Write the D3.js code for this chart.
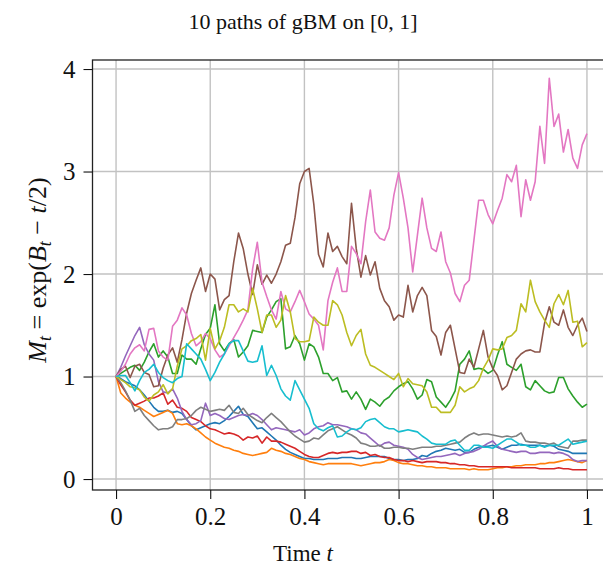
<!DOCTYPE html>
<html>
<head>
<meta charset="utf-8">
<script src="https://cdn.jsdelivr.net/npm/d3@7/dist/d3.min.js"></script>
<style>
  html, body { margin: 0; padding: 0; background: #fff; }
  svg text { font-family: "Liberation Serif", "DejaVu Serif", serif; fill: #111; }
</style>
</head>
<body>
<svg id="chart" width="603" height="568"></svg>
<script>
// Ten sampled paths of geometric Brownian motion M_t = exp(B_t - t/2), 100 steps on [0, 1]
const pathBlue = [
  1.00, 0.98, 0.95, 0.93, 0.91, 0.87, 0.82, 0.76, 0.70, 0.66,
  0.66, 0.67, 0.65, 0.66, 0.64, 0.58, 0.52, 0.48, 0.50, 0.52,
  0.54, 0.55, 0.54, 0.57, 0.61, 0.66, 0.71, 0.63, 0.61, 0.55,
  0.49, 0.50, 0.46, 0.42, 0.38, 0.33, 0.29, 0.26, 0.24, 0.22,
  0.20, 0.20, 0.19, 0.19, 0.19, 0.20, 0.20, 0.20, 0.21, 0.21,
  0.21, 0.20, 0.20, 0.21, 0.22, 0.22, 0.22, 0.22, 0.20, 0.19,
  0.19, 0.18, 0.19, 0.19, 0.20, 0.23, 0.22, 0.25, 0.27, 0.28,
  0.30, 0.29, 0.28, 0.29, 0.26, 0.26, 0.29, 0.31, 0.32, 0.32,
  0.33, 0.31, 0.29, 0.31, 0.33, 0.33, 0.34, 0.33, 0.33, 0.33,
  0.33, 0.32, 0.33, 0.32, 0.29, 0.28, 0.27, 0.25, 0.25, 0.25,
  0.25];
const pathOrange = [
  1.00, 0.84, 0.79, 0.75, 0.72, 0.70, 0.67, 0.64, 0.61, 0.63,
  0.65, 0.67, 0.64, 0.54, 0.53, 0.54, 0.52, 0.49, 0.45, 0.41,
  0.38, 0.35, 0.33, 0.31, 0.30, 0.28, 0.27, 0.25, 0.24, 0.23,
  0.24, 0.25, 0.26, 0.30, 0.28, 0.27, 0.25, 0.24, 0.22, 0.20,
  0.19, 0.17, 0.16, 0.15, 0.14, 0.15, 0.15, 0.15, 0.15, 0.15,
  0.15, 0.14, 0.13, 0.14, 0.15, 0.16, 0.16, 0.17, 0.19, 0.18,
  0.16, 0.15, 0.15, 0.14, 0.13, 0.13, 0.12, 0.12, 0.11, 0.11,
  0.11, 0.10, 0.10, 0.10, 0.10, 0.09, 0.10, 0.09, 0.09, 0.09,
  0.10, 0.11, 0.11, 0.12, 0.12, 0.13, 0.13, 0.14, 0.14, 0.14,
  0.15, 0.15, 0.16, 0.16, 0.17, 0.18, 0.19, 0.18, 0.17, 0.16,
  0.18];
const pathGreen = [
  1.00, 1.03, 1.06, 1.09, 1.11, 1.06, 1.14, 1.24, 1.32, 1.19,
  1.25, 1.19, 1.03, 1.03, 1.21, 1.17, 1.17, 1.12, 1.27, 1.41,
  1.47, 1.70, 1.32, 1.25, 1.32, 1.36, 1.19, 1.24, 1.30, 1.45,
  1.44, 1.43, 1.58, 1.65, 1.73, 1.76, 1.27, 1.29, 1.40, 1.32,
  1.16, 1.32, 1.29, 1.19, 1.03, 1.03, 0.96, 0.99, 0.85, 0.86,
  0.78, 0.85, 0.78, 0.68, 0.78, 0.75, 0.71, 0.77, 0.80, 0.86,
  0.90, 0.93, 0.95, 0.88, 0.78, 0.82, 0.97, 0.95, 0.80, 0.75,
  0.70, 0.77, 0.86, 1.12, 1.17, 1.25, 1.07, 1.08, 1.07, 1.03,
  1.06, 1.21, 1.34, 1.12, 1.09, 1.06, 1.12, 0.90, 0.87, 0.96,
  0.91, 0.86, 0.84, 0.85, 0.99, 0.99, 0.88, 0.81, 0.75, 0.70,
  0.73];
const pathRed = [
  1.00, 0.92, 0.85, 0.77, 0.72, 0.74, 0.76, 0.79, 0.79, 0.81,
  0.84, 0.73, 0.77, 0.70, 0.69, 0.66, 0.60, 0.58, 0.56, 0.52,
  0.49, 0.48, 0.46, 0.44, 0.45, 0.44, 0.42, 0.38, 0.41, 0.40,
  0.42, 0.35, 0.41, 0.37, 0.37, 0.36, 0.34, 0.32, 0.30, 0.27,
  0.24, 0.22, 0.21, 0.21, 0.23, 0.25, 0.26, 0.25, 0.26, 0.26,
  0.27, 0.27, 0.25, 0.26, 0.23, 0.24, 0.22, 0.21, 0.21, 0.19,
  0.18, 0.18, 0.17, 0.18, 0.17, 0.16, 0.17, 0.17, 0.17, 0.16,
  0.16, 0.15, 0.15, 0.14, 0.14, 0.13, 0.13, 0.12, 0.12, 0.12,
  0.12, 0.12, 0.12, 0.12, 0.11, 0.11, 0.11, 0.11, 0.11, 0.11,
  0.10, 0.10, 0.10, 0.10, 0.11, 0.10, 0.10, 0.09, 0.09, 0.09,
  0.09];
const pathPurple = [
  1.00, 1.09, 1.20, 1.30, 1.40, 1.48, 1.31, 1.22, 1.16, 0.95,
  0.85, 0.84, 0.88, 0.79, 0.66, 0.58, 0.53, 0.54, 0.57, 0.74,
  0.62, 0.64, 0.62, 0.59, 0.58, 0.60, 0.62, 0.63, 0.62, 0.64,
  0.62, 0.58, 0.53, 0.48, 0.50, 0.49, 0.48, 0.47, 0.46, 0.48,
  0.43, 0.45, 0.49, 0.51, 0.52, 0.55, 0.53, 0.53, 0.52, 0.51,
  0.49, 0.48, 0.45, 0.44, 0.40, 0.36, 0.32, 0.35, 0.36, 0.33,
  0.32, 0.31, 0.29, 0.24, 0.21, 0.19, 0.20, 0.21, 0.22, 0.22,
  0.23, 0.24, 0.25, 0.23, 0.25, 0.26, 0.27, 0.29, 0.32, 0.35,
  0.37, 0.32, 0.29, 0.28, 0.27, 0.26, 0.27, 0.27, 0.25, 0.25,
  0.26, 0.26, 0.26, 0.25, 0.26, 0.25, 0.23, 0.19, 0.17, 0.18,
  0.18];
const pathBrown = [
  1.00, 1.07, 1.10, 0.99, 1.10, 1.12, 1.04, 1.02, 0.90, 0.91,
  1.08, 1.21, 1.28, 1.14, 1.36, 1.62, 1.81, 1.94, 2.06, 1.83,
  2.00, 1.95, 1.65, 1.75, 1.79, 2.12, 2.40, 2.25, 2.00, 1.80,
  2.09, 1.90, 1.99, 1.91, 2.00, 2.12, 2.28, 2.30, 2.55, 2.88,
  3.00, 3.03, 2.68, 2.19, 2.07, 2.40, 2.22, 2.27, 2.17, 2.10,
  2.69, 2.25, 1.97, 2.18, 1.99, 2.12, 1.86, 1.74, 1.68, 1.55,
  1.60, 1.58, 1.89, 1.63, 1.79, 1.87, 1.79, 1.45, 1.39, 1.21,
  1.43, 1.50, 1.27, 1.04, 1.03, 1.17, 1.09, 1.27, 1.45, 1.19,
  1.08, 1.01, 0.87, 0.91, 1.04, 1.17, 1.22, 1.25, 1.26, 1.24,
  1.24, 1.52, 1.68, 1.53, 1.50, 1.65, 1.48, 1.40, 1.50, 1.57,
  1.44];
const pathPink = [
  1.00, 1.05, 1.12, 1.22, 1.28, 1.31, 1.25, 1.46, 1.47, 1.25,
  1.19, 1.16, 1.49, 1.55, 1.67, 1.60, 1.42, 1.30, 1.34, 1.42,
  1.37, 1.26, 1.19, 1.22, 1.30, 1.38, 1.46, 1.55, 1.65, 2.05,
  2.31, 1.92, 1.78, 1.65, 1.56, 1.83, 1.66, 1.63, 1.73, 1.84,
  1.73, 1.61, 1.56, 1.50, 1.26, 1.74, 1.92, 2.06, 1.83, 1.83,
  2.27, 2.20, 2.10, 2.51, 2.82, 2.41, 2.35, 2.33, 2.45, 2.77,
  2.99, 2.74, 2.45, 2.02, 2.38, 2.74, 2.45, 2.25, 2.22, 2.41,
  2.12, 2.01, 1.81, 1.73, 1.89, 1.94, 2.33, 2.72, 2.72, 2.58,
  2.49, 2.62, 2.74, 2.97, 2.90, 3.06, 2.56, 2.92, 2.72, 2.90,
  3.44, 3.08, 3.91, 3.44, 3.56, 3.19, 3.41, 3.13, 3.03, 3.26,
  3.37];
const pathGray = [
  1.00, 0.94, 0.86, 0.77, 0.66, 0.69, 0.62, 0.57, 0.52, 0.48,
  0.49, 0.49, 0.51, 0.58, 0.58, 0.59, 0.62, 0.67, 0.70, 0.68,
  0.66, 0.67, 0.68, 0.67, 0.72, 0.65, 0.64, 0.69, 0.63, 0.60,
  0.57, 0.55, 0.60, 0.64, 0.60, 0.56, 0.51, 0.46, 0.42, 0.39,
  0.36, 0.37, 0.40, 0.39, 0.43, 0.47, 0.49, 0.51, 0.48, 0.45,
  0.43, 0.40, 0.35, 0.34, 0.32, 0.32, 0.33, 0.30, 0.30, 0.31,
  0.31, 0.30, 0.30, 0.29, 0.30, 0.31, 0.31, 0.31, 0.32, 0.32,
  0.33, 0.34, 0.35, 0.36, 0.40, 0.43, 0.45, 0.43, 0.44, 0.44,
  0.43, 0.42, 0.41, 0.42, 0.41, 0.42, 0.45, 0.37, 0.36, 0.36,
  0.35, 0.35, 0.34, 0.35, 0.32, 0.31, 0.30, 0.37, 0.37, 0.38,
  0.38];
const pathOlive = [
  1.00, 0.97, 0.94, 0.90, 0.89, 0.87, 0.80, 0.76, 0.82, 0.85,
  0.92, 0.83, 0.88, 1.10, 1.27, 1.30, 1.35, 1.37, 1.41, 1.16,
  1.47, 1.27, 1.35, 1.48, 1.70, 1.70, 1.63, 1.66, 1.63, 1.86,
  1.66, 1.43, 1.60, 1.60, 1.48, 1.55, 1.79, 1.63, 1.37, 1.34,
  1.34, 1.35, 1.58, 1.53, 1.50, 1.50, 1.74, 1.70, 1.60, 1.43,
  1.30, 1.40, 1.46, 1.22, 1.11, 1.09, 1.06, 1.03, 1.00, 0.97,
  1.03, 0.90, 0.98, 0.93, 0.92, 0.91, 0.85, 0.70, 0.70, 0.65,
  0.65, 0.65, 0.72, 0.90, 0.85, 0.88, 0.90, 0.96, 1.08, 1.16,
  1.27, 1.26, 1.27, 1.38, 1.40, 1.45, 1.71, 1.63, 1.94, 1.73,
  1.63, 1.55, 1.48, 1.71, 1.80, 1.70, 1.84, 1.53, 1.54, 1.29,
  1.33];
const pathCyan = [
  1.00, 1.01, 1.01, 0.94, 0.86, 0.96, 1.04, 1.07, 1.12, 1.04,
  0.99, 0.96, 0.94, 0.98, 1.00, 1.32, 1.27, 1.22, 1.17, 1.07,
  0.96, 1.04, 1.14, 1.22, 1.32, 1.35, 1.35, 1.25, 1.15, 1.14,
  1.15, 1.30, 1.01, 1.11, 1.01, 0.88, 0.81, 0.77, 0.96, 0.87,
  0.78, 0.69, 0.54, 0.49, 0.47, 0.50, 0.52, 0.41, 0.42, 0.46,
  0.49, 0.48, 0.50, 0.56, 0.58, 0.59, 0.55, 0.51, 0.49, 0.49,
  0.46, 0.47, 0.48, 0.47, 0.46, 0.42, 0.39, 0.35, 0.34, 0.34,
  0.34, 0.37, 0.38, 0.33, 0.28, 0.28, 0.33, 0.33, 0.31, 0.31,
  0.30, 0.33, 0.36, 0.39, 0.39, 0.36, 0.33, 0.33, 0.31, 0.31,
  0.33, 0.31, 0.33, 0.33, 0.33, 0.36, 0.39, 0.34, 0.35, 0.36,
  0.37];

const paths = [pathBlue, pathOrange, pathGreen, pathRed, pathPurple,
               pathBrown, pathPink, pathGray, pathOlive, pathCyan];
const pathColors = ["#1f77b4", "#ff7f0e", "#2ca02c", "#d62728", "#9467bd",
                    "#8c564b", "#e377c2", "#7f7f7f", "#bcbd22", "#17becf"];
const xTicks = [0, 0.2, 0.4, 0.6, 0.8, 1];
const xTickLabels = ["0", "0.2", "0.4", "0.6", "0.8", "1"];
const yTicks = [0, 1, 2, 3, 4];
const yTickLabels = ["0", "1", "2", "3", "4"];
const nSteps = 100;

const svg = d3.select("#chart");
const plot = { left: 92.5, right: 610.5, top: 60, bottom: 490 };

const x = d3.scaleLinear().domain([-0.05, 1.05]).range([plot.left, plot.right]);
const y = d3.scaleLinear().domain([-0.107, 4.088]).range([plot.bottom, plot.top]);

svg.append("defs").append("clipPath").attr("id", "plot-clip")
  .append("rect")
  .attr("x", plot.left).attr("y", plot.top)
  .attr("width", plot.right - plot.left).attr("height", plot.bottom - plot.top);

// grid
const grid = svg.append("g").attr("clip-path", "url(#plot-clip)");
grid.selectAll("line.gx").data(xTicks).join("line")
  .attr("x1", d => x(d)).attr("x2", d => x(d))
  .attr("y1", plot.top).attr("y2", plot.bottom)
  .attr("stroke", "#c2c2c2").attr("stroke-width", 1.4);
grid.selectAll("line.gy").data(yTicks).join("line")
  .attr("x1", plot.left).attr("x2", plot.right)
  .attr("y1", d => y(d)).attr("y2", d => y(d))
  .attr("stroke", "#c2c2c2").attr("stroke-width", 1.4);

// paths
const line = d3.line()
  .x((d, i) => x(i / nSteps))
  .y(d => y(d));
svg.append("g").attr("clip-path", "url(#plot-clip)")
  .selectAll("path").data(paths).join("path")
  .attr("d", line)
  .attr("fill", "none")
  .attr("stroke", (d, i) => pathColors[i])
  .attr("stroke-width", 1.6)
  .attr("stroke-linejoin", "round");

// frame
svg.append("rect")
  .attr("x", plot.left).attr("y", plot.top)
  .attr("width", plot.right - plot.left).attr("height", plot.bottom - plot.top)
  .attr("fill", "none").attr("stroke", "#222").attr("stroke-width", 1.3);

// axes
const xAxis = d3.axisBottom(x).tickValues(xTicks)
  .tickFormat((d, i) => xTickLabels[i]).tickSize(9).tickPadding(8);
const gx = svg.append("g").attr("transform", `translate(0,${plot.bottom})`).call(xAxis);
gx.select(".domain").remove();
gx.selectAll(".tick line").attr("stroke", "#111").attr("stroke-width", 1.1);
gx.selectAll(".tick text").attr("font-size", 25).attr("dy", "0.71em")
  .style("font-family", "'Liberation Serif', 'DejaVu Serif', serif").attr("fill", "#111");

const yAxis = d3.axisLeft(y).tickValues(yTicks)
  .tickFormat((d, i) => yTickLabels[i]).tickSize(9).tickPadding(8);
const gy = svg.append("g").attr("transform", `translate(${plot.left},0)`).call(yAxis);
gy.select(".domain").remove();
gy.selectAll(".tick line").attr("stroke", "#111").attr("stroke-width", 1.1);
gy.selectAll(".tick text").attr("font-size", 25)
  .style("font-family", "'Liberation Serif', 'DejaVu Serif', serif").attr("fill", "#111");

// title
svg.append("text").attr("x", 303).attr("y", 29)
  .attr("text-anchor", "middle").attr("font-size", 22)
  .text("10 paths of gBM on [0, 1]");

// x label
const xl = svg.append("text").attr("x", 303).attr("y", 561)
  .attr("text-anchor", "middle").attr("font-size", 23);
xl.append("tspan").text("Time ");
xl.append("tspan").attr("font-style", "italic").text("t");

// y label
const yl = svg.append("text")
  .attr("transform", "translate(46,270) rotate(-90)")
  .attr("text-anchor", "middle").attr("font-size", 26);
yl.append("tspan").attr("font-style", "italic").text("M");
yl.append("tspan").attr("font-style", "italic").attr("font-size", 18).attr("dy", 5).text("t");
yl.append("tspan").attr("dy", -5).text(" = exp(");
yl.append("tspan").attr("font-style", "italic").text("B");
yl.append("tspan").attr("font-style", "italic").attr("font-size", 18).attr("dy", 5).text("t");
yl.append("tspan").attr("dy", -5).text(" − ");
yl.append("tspan").attr("font-style", "italic").text("t");
yl.append("tspan").text("/2)");
</script>
</body>
</html>
